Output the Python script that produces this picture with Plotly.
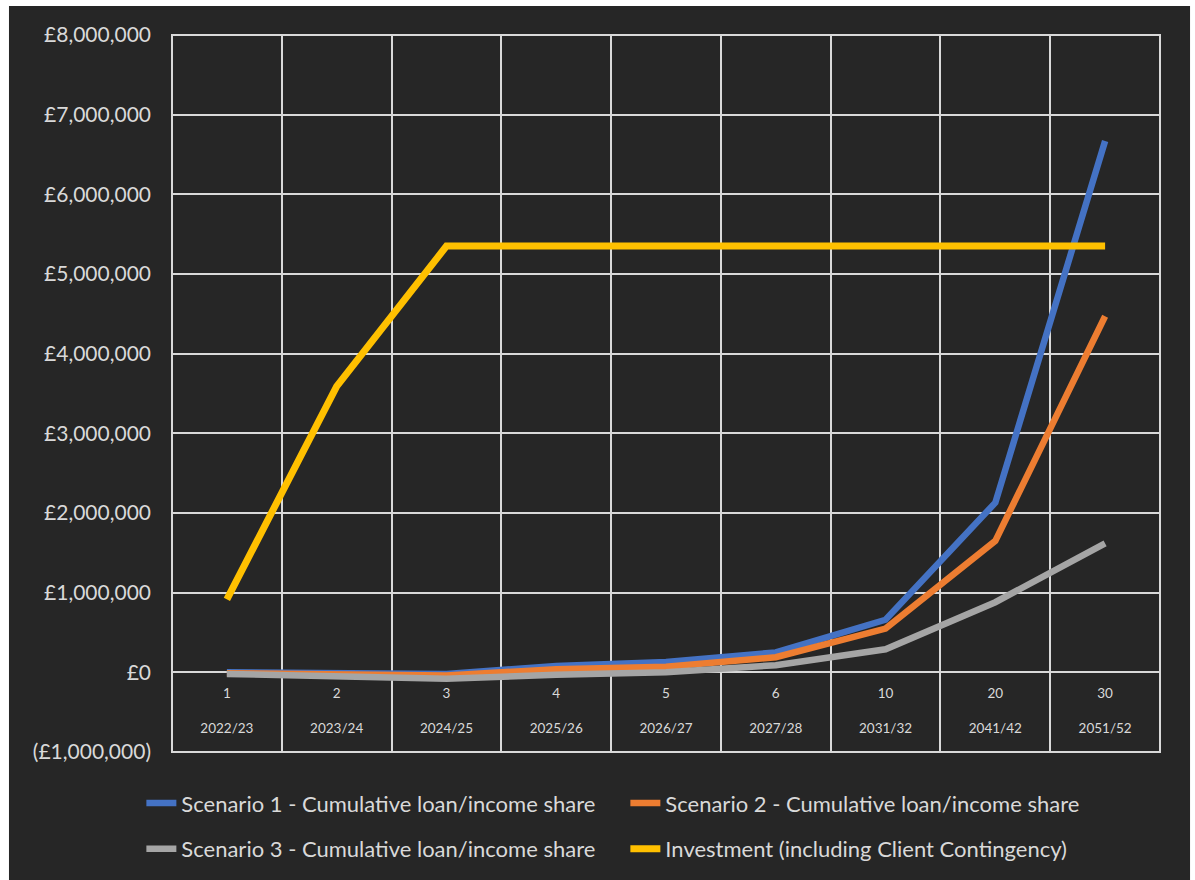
import plotly.graph_objects as go

# ---- data ----
categories_num = ["1", "2", "3", "4", "5", "6", "10", "20", "30"]
categories_year = ["2022/23", "2023/24", "2024/25", "2025/26", "2026/27",
                   "2027/28", "2031/32", "2041/42", "2051/52"]
scenario1 = [0, -10000, -20000, 80000, 130000, 250000, 660000, 2130000, 6670000]
scenario2 = [-10000, -30000, -40000, 40000, 70000, 190000, 550000, 1650000, 4470000]
scenario3 = [-20000, -50000, -80000, -30000, 0, 90000, 290000, 880000, 1620000]
investment = [915000, 3590000, 5350000, 5350000, 5350000, 5350000, 5350000, 5350000, 5350000]

series_names = ["Scenario 1 - Cumulative loan/income share",
                "Scenario 2 - Cumulative loan/income share",
                "Scenario 3 - Cumulative loan/income share",
                "Investment (including Client Contingency)"]
series_colors = ["#4472C4", "#ED7D31", "#A5A5A5", "#FFC000"]

y_tick_values = [-1000000, 0, 1000000, 2000000, 3000000, 4000000,
                 5000000, 6000000, 7000000, 8000000]
y_tick_labels = ["(£1,000,000)", "£0", "£1,000,000", "£2,000,000", "£3,000,000",
                 "£4,000,000", "£5,000,000", "£6,000,000", "£7,000,000", "£8,000,000"]

BG = "#262626"
TXT = "#d9d9d9"
GRID = "#d9d9d9"
FONT = "Lato"

fig = go.Figure()
all_series = [scenario1, scenario2, scenario3, investment]
legends = ["legend", "legend", "legend2", "legend2"]
widths = [6.5, 6.5, 6.5, 7]
for name, vals, col, lg, w in zip(series_names, all_series, series_colors, legends, widths):
    fig.add_trace(go.Scatter(
        x=categories_num, y=vals, mode="lines", name=name,
        line=dict(color=col, width=w), legend=lg))

# two-level category labels: number over financial year
x_tick_text = [f"{n}<br><br>{yr}" for n, yr in zip(categories_num, categories_year)]

y_min, y_max = y_tick_values[0], y_tick_values[-1]
zero_frac = (0 - y_min) / (y_max - y_min)

fig.update_layout(
    width=1195, height=880,
    margin=dict(l=172, r=35, t=35, b=128, autoexpand=False),
    paper_bgcolor="white",
    plot_bgcolor=BG,
    font=dict(family=FONT, color=TXT),
    xaxis=dict(
        type="category", categoryorder="array", categoryarray=categories_num,
        range=[-0.5, len(categories_num) - 0.5],
        tickvals=categories_num, ticktext=x_tick_text,
        tickson="boundaries", showgrid=True, gridcolor=GRID, gridwidth=2,
        anchor="free", position=zero_frac, showline=False, ticks="",
        tickfont=dict(size=13.5, color=TXT, family=FONT),
        ticklabelstandoff=11, zeroline=False, automargin=False,
    ),
    yaxis=dict(
        range=[y_min, y_max], tickvals=y_tick_values, ticktext=y_tick_labels,
        showgrid=True, gridcolor=GRID, gridwidth=2, zeroline=False,
        ticks="", ticklabelstandoff=20, automargin=False,
        tickfont=dict(size=21, color=TXT, family=FONT),
    ),
    showlegend=True,
    legend=dict(
        orientation="h", x=-0.031, xanchor="left", y=-0.042, yanchor="top",
        font=dict(size=22, color=TXT, family=FONT), bgcolor="rgba(0,0,0,0)",
        entrywidth=439, entrywidthmode="pixels", traceorder="normal",
    ),
    legend2=dict(
        orientation="h", x=-0.031, xanchor="left", y=-0.106, yanchor="top",
        font=dict(size=22, color=TXT, family=FONT), bgcolor="rgba(0,0,0,0)",
        entrywidth=439, entrywidthmode="pixels", traceorder="normal",
    ),
    shapes=[
        dict(type="rect", xref="paper", yref="paper",
             x0=-0.165, x1=1.0304, y0=-0.25, y1=1.0404,
             fillcolor=BG, line=dict(width=0), layer="below"),
        dict(type="rect", xref="paper", yref="paper", x0=0, x1=1, y0=0, y1=1,
             line=dict(color=GRID, width=2), layer="below"),
    ],
)

fig.write_html("out.html")
